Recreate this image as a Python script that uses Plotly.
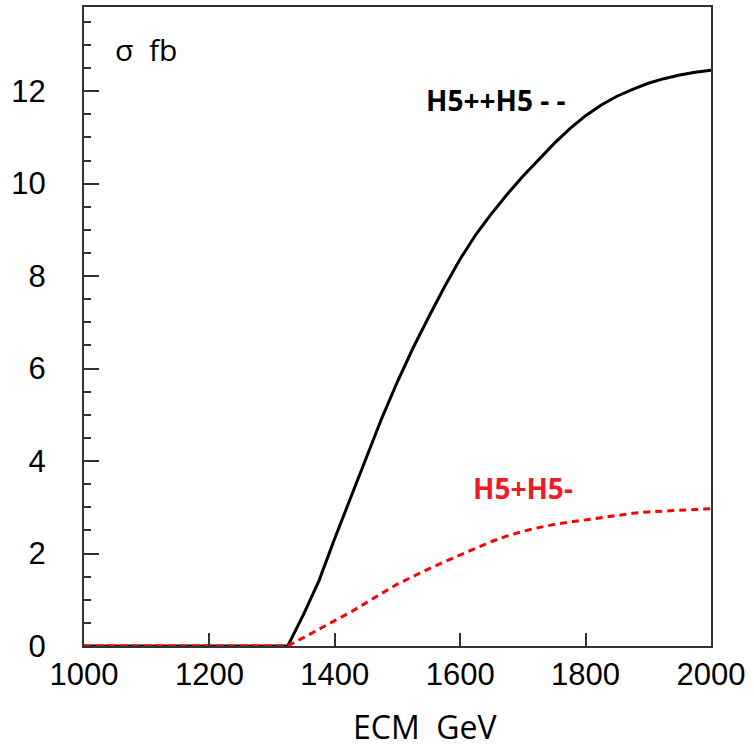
import plotly.graph_objects as go

# Centre-of-mass energy grid (GeV)
ecm = [1000, 1100, 1200, 1300, 1325, 1350, 1375, 1400, 1425, 1450, 1475,
       1500, 1525, 1550, 1575, 1600, 1625, 1650, 1675, 1700, 1725, 1750,
       1775, 1800, 1825, 1850, 1875, 1900, 1925, 1950, 1975, 2000]

# Cross sections (fb)
sigma_h5pp = [0, 0, 0, 0, 0, 0.68, 1.42, 2.33, 3.2, 4.07, 4.93,
              5.72, 6.45, 7.12, 7.77, 8.37, 8.9, 9.35, 9.77, 10.16, 10.52, 10.87,
              11.19, 11.47, 11.7, 11.89, 12.04, 12.17, 12.27, 12.35, 12.41, 12.45]
sigma_h5p = [0, 0, 0, 0, 0, 0.18, 0.37, 0.55, 0.73, 0.94, 1.14,
             1.34, 1.51, 1.67, 1.82, 1.97, 2.12, 2.26, 2.38, 2.48, 2.56, 2.63,
             2.68, 2.73, 2.78, 2.83, 2.87, 2.9, 2.92, 2.94, 2.96, 2.97]

x_ticks = [1000, 1200, 1400, 1600, 1800, 2000]
y_ticks = [0, 2, 4, 6, 8, 10, 12]

fig = go.Figure()
fig.add_trace(go.Scatter(x=ecm, y=sigma_h5pp, mode="lines",
                         line=dict(color="black", width=3),
                         showlegend=False))
fig.add_trace(go.Scatter(x=ecm, y=sigma_h5p, mode="lines",
                         line=dict(color="#ff0000", width=3, dash="7px,5px"),
                         showlegend=False))

tick_font = dict(family="Liberation Sans, Arial", size=31, color="black")
label_font = "Open Sans, Noto Sans"

fig.update_layout(
    width=754, height=751,
    margin=dict(l=84, r=43, t=5, b=105),
    paper_bgcolor="white", plot_bgcolor="white",
    xaxis=dict(range=[1000, 2000], tickvals=x_ticks, ticks="inside",
               ticklen=13, tickwidth=1.5, tickcolor="#333",
               showline=True, linecolor="#333", linewidth=2, mirror=True,
               showgrid=False, zeroline=False, tickfont=tick_font),
    yaxis=dict(range=[0, 13.82], tickvals=y_ticks, ticks="inside",
               ticklen=15, tickwidth=1.5, tickcolor="#333",
               minor=dict(dtick=0.5, ticks="inside", ticklen=7,
                          tickwidth=1.5, tickcolor="#333", showgrid=False),
               showline=True, linecolor="#333", linewidth=2, mirror=True,
               showgrid=False, zeroline=False, tickfont=tick_font,
               ticklabelstandoff=30),
)

fig.add_annotation(text="ECM\u00a0 GeV", xref="paper", yref="paper",
                   x=(425 - 84) / 627, y=(646 - 727) / 641, showarrow=False,
                   font=dict(family=label_font, size=32, color="black"),
                   xanchor="center", yanchor="middle")
fig.add_annotation(text="\u03c3\u00a0 fb", xref="paper", yref="paper",
                   x=(113 - 84) / 627, y=(646 - 48) / 641, showarrow=False,
                   font=dict(family=label_font, size=30, color="black"),
                   xanchor="left", yanchor="middle")
fig.add_annotation(text="<b>H5++H5 - -</b>", xref="paper", yref="paper",
                   x=(424 - 84) / 627, y=(646 - 98) / 641, showarrow=False,
                   font=dict(family=label_font, size=28, color="black"),
                   xanchor="left", yanchor="middle")
fig.add_annotation(text="<b>H5+H5-</b>", xref="paper", yref="paper",
                   x=(471 - 84) / 627, y=(646 - 488) / 641, showarrow=False,
                   font=dict(family=label_font, size=28, color="#ee1c24"),
                   xanchor="left", yanchor="middle")

fig.write_html("out.html")
